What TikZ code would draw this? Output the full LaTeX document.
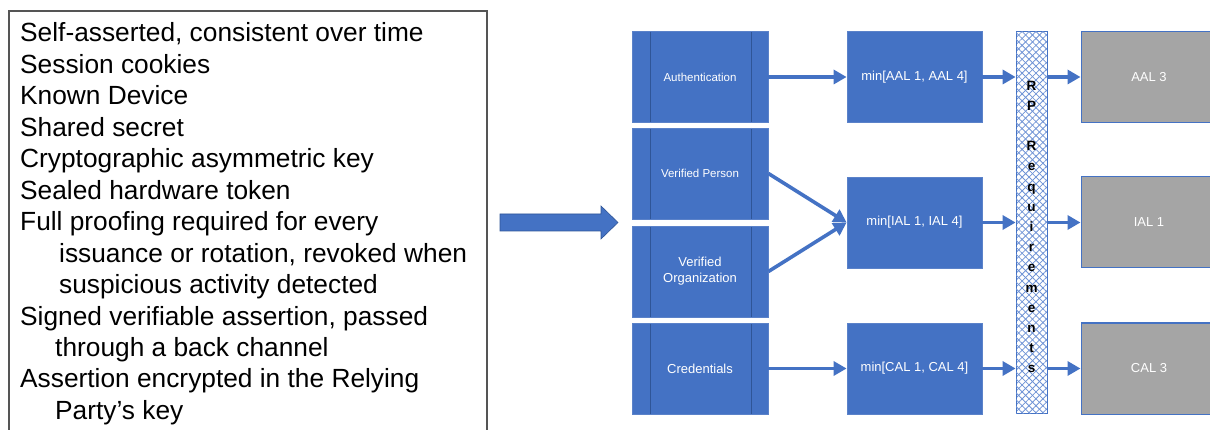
\documentclass[tikz,border=0pt]{standalone}
\usepackage{fontspec}
\setmainfont{Liberation Sans}
\usetikzlibrary{arrows.meta,patterns.meta}
\definecolor{ablue}{HTML}{4472C4}
\definecolor{dblue}{HTML}{2F5597}
\definecolor{hblue}{HTML}{5B82C9}
\definecolor{pblue}{HTML}{6F93D6}
\definecolor{agray}{HTML}{A5A5A5}
\definecolor{boxgray}{HTML}{555555}
\begin{document}
\begin{tikzpicture}[x=1pt,y=-1pt,
  proc/.style={draw=hblue, fill=ablue, line width=0.8pt, minimum width=136pt, minimum height=91pt,
    inner sep=0pt, text=white, align=center,
    path picture={\draw[dblue,line width=1pt]
      ([xshift=18pt]path picture bounding box.north west) -- ([xshift=18pt]path picture bounding box.south west)
      ([xshift=-17pt]path picture bounding box.north east) -- ([xshift=-17pt]path picture bounding box.south east);}},
  minbox/.style={draw=hblue, fill=ablue, line width=0.8pt, minimum width=135pt, minimum height=91pt,
    inner sep=0pt, text=white, font=\fontsize{13}{15}\selectfont},
  resbox/.style={draw=ablue, fill=agray, line width=1pt, minimum width=136pt, minimum height=91pt,
    inner sep=0pt, text=white, font=\fontsize{13}{15}\selectfont},
  conn/.style={ablue, line width=3.6pt, -{Triangle[length=13pt,width=14pt]}},
  item/.style={anchor=base west, inner sep=0pt, font=\fontsize{26.3}{30}\selectfont}]
\useasboundingbox (0,0) rectangle (1210,430);
\fill[white] (0,0) rectangle (1210,430);
% left text box
\draw[boxgray, line width=1.3pt] (9,430) -- (9,11) -- (487,11) -- (487,430);
\node[item] (t1) at (20,42) {Self-asserted, consistent over time};
\node[item] (t2) at (20,73.4) {Session cookies};
\node[item] (t3) at (20,104.9) {Known Device};
\node[item] (t4) at (20,136.3) {Shared secret};
\node[item] (t5) at (20,167.8) {Cryptographic asymmetric key};
\node[item] (t6) at (20,199.2) {Sealed hardware token};
\node[item] (t7) at (20,230.7) {Full proofing required for every};
\node[item] (t8) at (59,262.1) {issuance or rotation, revoked when};
\node[item] (t9) at (59,293.6) {suspicious activity detected};
\node[item] (t10) at (20,325.0) {Signed verifiable assertion, passed};
\node[item] (t11) at (55,356.5) {through a back channel};
\node[item] (t12) at (20,387.9) {Assertion encrypted in the Relying};
\node[item] (t13) at (55,419.4) {Party’s key};
% big arrow
\filldraw[fill=ablue, draw=dblue, line width=0.6pt]
  (500,214) -- (601,214) -- (601,206) -- (618,222.5) -- (601,239) -- (601,231) -- (500,231) -- cycle;
% left column
\node[proc, font=\fontsize{11.5}{14}\selectfont] (auth) at (700,77) {Authentication};
\node[proc, font=\fontsize{11.5}{14}\selectfont] (vp) at (700,173.5) {Verified Person};
\node[proc, font=\fontsize{13}{16}\selectfont] (vo) at (700,271.5) {Verified\\Organization};
\node[proc, font=\fontsize{13}{16}\selectfont] (cred) at (700,368.5) {Credentials};
% min column
\node[minbox] (minA) at (914.5,77) {min[AAL 1, AAL 4]};
\node[minbox] (minI) at (914.5,222.5) {min[IAL 1, IAL 4]};
\node[minbox] (minC) at (914.5,368.5) {min[CAL 1, CAL 4]};
% RP requirements bar
\node[draw=ablue, line width=1pt, minimum width=31pt, minimum height=381pt, inner sep=0pt,
  pattern={Lines[angle=45,distance=4.9pt,line width=0.8pt]}, pattern color=pblue,
  postaction={pattern={Lines[angle=-45,distance=4.9pt,line width=0.8pt]}, pattern color=pblue}]
  (rp) at (1031.5,222.5) {};
\node[inner sep=0pt, align=center, font=\bfseries\fontsize{13.5}{20.2}\selectfont] (rplabel) at (1031.5,227)
  {R\\P\\[20.2pt]R\\e\\q\\u\\i\\r\\e\\m\\e\\n\\t\\s};
% results
\node[resbox] (gA) at (1149,77) {AAL 3};
\node[resbox] (gI) at (1149,222.5) {IAL 1};
\node[resbox] (gC) at (1149,368.5) {CAL 3};
% connectors
\draw[conn] (auth) -- (minA);
\draw[conn] (vp.east) -- (minI.west);
\draw[conn] (vo.east) -- (minI.west);
\draw[conn] (cred) -- (minC);
\draw[conn] (minA) -- (minA -| rp.west);
\draw[conn] (minI) -- (minI -| rp.west);
\draw[conn] (minC) -- (minC -| rp.west);
\draw[conn] (rp.east |- gA) -- (gA);
\draw[conn] (rp.east |- gI) -- (gI);
\draw[conn] (rp.east |- gC) -- (gC);
\end{tikzpicture}
\end{document}
